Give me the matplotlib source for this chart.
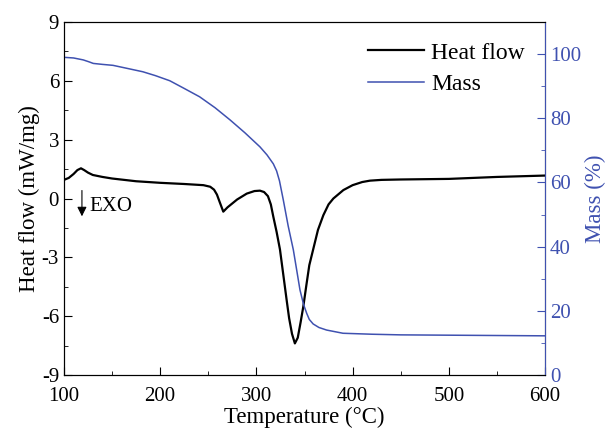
import matplotlib
matplotlib.use('Agg')
import matplotlib.pyplot as plt
from matplotlib.ticker import MultipleLocator
import numpy as np

plt.rcParams['font.family'] = ['Liberation Serif', 'DejaVu Serif']
plt.rcParams['axes.unicode_minus'] = False

# Heat flow (mW/mg) vs temperature (C)
hf_temp = [100, 105, 110, 114, 117.7, 121, 125, 130, 140, 150, 175, 200, 225, 245,
           252, 256, 259, 262, 265.6, 270, 280, 290, 298, 303.7, 308, 312, 315,
           317.6, 321, 324.5, 328, 331.5, 334, 337, 340, 343, 346, 348.8, 352, 355,
           359, 364, 369.6, 375, 380, 390.4, 400, 410, 418, 430, 450, 500, 550, 600]
hf_val = [0.95, 1.05, 1.25, 1.45, 1.54, 1.45, 1.32, 1.2, 1.1, 1.02, 0.88, 0.8, 0.74, 0.68,
          0.6, 0.45, 0.2, -0.2, -0.67, -0.45, -0.05, 0.25, 0.38, 0.4, 0.33, 0.12, -0.3,
          -0.93, -1.7, -2.6, -3.9, -5.2, -6.1, -6.9, -7.39, -7.1, -6.3, -5.5, -4.4, -3.4,
          -2.6, -1.6, -0.85, -0.3, 0.0, 0.43, 0.68, 0.84, 0.91, 0.95, 0.97, 1.0, 1.1, 1.17]

# Mass (%) vs temperature (C)
mass_temp = [100, 110, 120, 126, 130.5, 140, 151, 165, 182, 195, 210, 225, 241, 257,
             272.6, 288, 303.7, 311, 317.6, 321, 324, 328, 333, 338.4, 342, 345.3,
             349, 352.3, 355, 359, 365, 373, 390, 420, 450, 500, 600]
mass_val = [99.0, 98.8, 98.2, 97.6, 97.1, 96.8, 96.5, 95.6, 94.5, 93.3, 91.7, 89.3,
            86.7, 83.3, 79.5, 75.5, 71.1, 68.6, 65.8, 63.6, 60.5, 54.5, 46.5, 39.0,
            32.5, 26.5, 22.0, 19.2, 17.3, 15.9, 14.8, 14.0, 13.0, 12.7, 12.5, 12.4, 12.2]

blue = '#3F51B0'

fig = plt.figure(figsize=(6.09, 4.32), dpi=100)
ax = fig.add_axes([0.105, 0.132, 0.79, 0.817])
ax2 = ax.twinx()

l1, = ax.plot(hf_temp, hf_val, color='black', lw=1.6, label='Heat flow')
l2, = ax2.plot(mass_temp, mass_val, color=blue, lw=1.1, label='Mass')

ax.set_xlim(100, 600)
ax.set_ylim(-9, 9)
ax2.set_ylim(0, 110)

ax.xaxis.set_major_locator(MultipleLocator(100))
ax.xaxis.set_minor_locator(MultipleLocator(50))
ax.yaxis.set_major_locator(MultipleLocator(3))
ax.yaxis.set_minor_locator(MultipleLocator(1.5))
ax2.yaxis.set_major_locator(MultipleLocator(20))
ax2.yaxis.set_minor_locator(MultipleLocator(10))

ax.tick_params(which='both', direction='in', labelsize=15, top=False, right=False)
ax.tick_params(which='major', length=6)
ax.tick_params(which='minor', length=3)
ax.tick_params(axis='x', pad=9)
ax2.tick_params(which='both', direction='in', colors=blue, labelsize=15)
ax2.tick_params(which='major', length=6)
ax2.tick_params(which='minor', length=3)
ax2.spines['right'].set_color(blue)

ax.set_xlabel('Temperature (°C)', fontsize=16.5, labelpad=0)
ax.set_ylabel('Heat flow (mW/mg)', fontsize=16.5, labelpad=1)
ax2.set_ylabel('Mass (%)', fontsize=16.5, color=blue, labelpad=3)

# EXO direction marker
ax.annotate('', xy=(118.7, -1.05), xytext=(118.7, 0.55),
            arrowprops=dict(arrowstyle='-|>', color='black', lw=0.8, mutation_scale=14))
ax.text(126, -0.43, 'EXO', fontsize=15, va='center', ha='left')

ax.legend([l1, l2], ['Heat flow', 'Mass'], loc='upper right', frameon=False,
          fontsize=17, handlelength=2.4, handletextpad=0.3, borderaxespad=0.45,
          labelspacing=0.42)

fig.savefig('out.png', dpi=100)
